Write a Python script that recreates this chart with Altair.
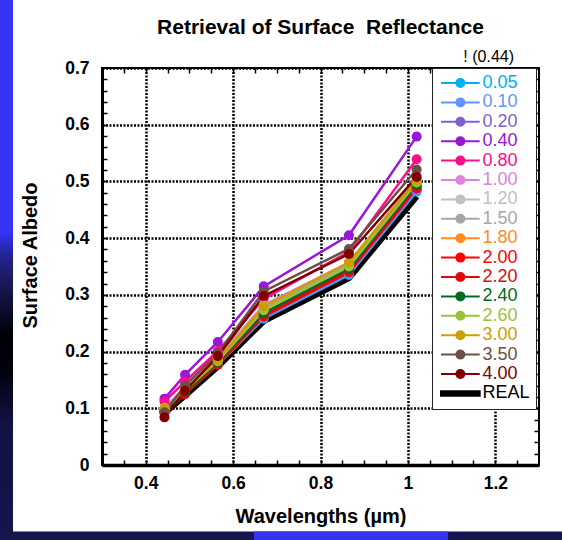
import altair as alt
import pandas as pd

FONT = "Liberation Sans"

# Band centre wavelengths (micrometres)
wavelengths = [0.443, 0.490, 0.565, 0.670, 0.865, 1.020]

# Optical depth at 0.44 um used in each retrieval
tau_labels = ["0.05", "0.10", "0.20", "0.40", "0.80", "1.00", "1.20", "1.50",
              "1.80", "2.00", "2.20", "2.40", "2.60", "3.00", "3.50", "4.00"]
tau_colors = ["#00b0f0", "#6494ff", "#7f60d4", "#9a16d8", "#fb0e8a", "#de82de",
              "#c0c0c0", "#a6a6a6", "#ff8c1f", "#ff0000", "#dd0a0a", "#006a24",
              "#9cc23a", "#c9a000", "#6e4f47", "#800000"]

# Retrieved surface albedo per optical depth
alb_005 = [0.093, 0.126, 0.177, 0.258, 0.335, 0.482]
alb_010 = [0.094, 0.127, 0.178, 0.259, 0.337, 0.484]
alb_020 = [0.095, 0.128, 0.179, 0.261, 0.339, 0.486]
alb_040 = [0.117, 0.159, 0.217, 0.315, 0.405, 0.579]
alb_080 = [0.112, 0.147, 0.201, 0.293, 0.376, 0.539]
alb_100 = [0.101, 0.136, 0.190, 0.282, 0.357, 0.505]
alb_120 = [0.099, 0.134, 0.188, 0.279, 0.354, 0.502]
alb_150 = [0.098, 0.133, 0.187, 0.277, 0.352, 0.500]
alb_180 = [0.097, 0.131, 0.185, 0.274, 0.349, 0.497]
alb_200 = [0.093, 0.125, 0.177, 0.262, 0.340, 0.488]
alb_220 = [0.094, 0.126, 0.178, 0.264, 0.343, 0.491]
alb_240 = [0.096, 0.129, 0.181, 0.268, 0.346, 0.494]
alb_260 = [0.098, 0.132, 0.183, 0.273, 0.350, 0.498]
alb_300 = [0.099, 0.134, 0.185, 0.280, 0.357, 0.502]
alb_350 = [0.093, 0.140, 0.197, 0.306, 0.381, 0.521]
alb_400 = [0.084, 0.131, 0.192, 0.298, 0.372, 0.508]

# True surface albedo
real_albedo = [0.092, 0.123, 0.174, 0.254, 0.330, 0.474]

retrieved = [alb_005, alb_010, alb_020, alb_040, alb_080, alb_100, alb_120, alb_150,
             alb_180, alb_200, alb_220, alb_240, alb_260, alb_300, alb_350, alb_400]

x_major = [0.4, 0.6, 0.8, 1.0, 1.2]
y_major = [0, 0.1, 0.2, 0.3, 0.4, 0.5, 0.6, 0.7]
x_minor = [round(0.3 + 0.05 * i, 2) for i in range(1, 20)]
y_minor = [round(0.02 * i, 2) for i in range(1, 35)]

rows = []
for name, vals in zip(tau_labels, retrieved):
    for w, v in zip(wavelengths, vals):
        rows.append({"tau": name, "wavelength": w, "albedo": v})
retr_df = pd.DataFrame(rows)
real_df = pd.DataFrame({"wavelength": wavelengths, "albedo": real_albedo})

x_scale = alt.Scale(domain=[0.3, 1.3], nice=False, zero=False)
y_scale = alt.Scale(domain=[0, 0.7], nice=False, zero=False)
color_scale = alt.Scale(domain=tau_labels + ["REAL"], range=tau_colors + ["#000000"])

grid_style = dict(grid=True, gridColor="#000000", gridWidth=2.5, gridDash=[2, 1.5])
label_style = dict(labelFont=FONT, labelFontSize=17.5, labelFontWeight="bold",
                   labelColor="black", labelFlush=False, labelOverlap=False)
title_style = dict(titleFont=FONT, titleFontSize=20, titleFontWeight="bold", titleColor="black")

x_main = alt.Axis(orient="bottom", values=x_major, format="~g", ticks=False, tickSize=0,
                  domain=True, domainWidth=3.5, domainColor="black", labelPadding=9,
                  title="Wavelengths (µm)", titlePadding=15,
                  **grid_style, **label_style, **title_style)
y_main = alt.Axis(orient="left", values=y_major, format="~g", ticks=False, tickSize=0,
                  domain=True, domainWidth=3, domainColor="black", labelPadding=13,
                  title="Surface Albedo", titlePadding=24, titleY=187,
                  **grid_style, **label_style, **title_style)

def inner_ticks(orient, values):
    return alt.Axis(orient=orient, offset=-5, values=values, ticks=True, tickSize=5,
                    tickWidth=1.5, tickColor="black", labels=False, domain=False,
                    grid=False, title=None)

# Legend glyphs: a short line with a dot, or a thick bar for the true albedo.
# Units are 5 px (symbol size 100); the glyph runs past the nominal box to the right.
dot_path = ("M-1.2,0H6.54M1.87,0A0.8,0.8,0,1,1,3.47,0"
            "A0.8,0.8,0,1,1,1.87,0Z")
bar_path = "M-1.2,-0.45H6.54V0.45H-1.2Z"

legend = alt.Legend(
    orient="none", legendX=330, legendY=0, title=None,
    fillColor="white", strokeColor="#222222", padding=6, rowPadding=1.4,
    labelFont=FONT, labelFontSize=18, labelOffset=26.5,
    labelColor={"expr": "datum.value === 'REAL' ? 'black' : scale('color', datum.value)"},
    symbolType={"expr": f"datum.value === 'REAL' ? '{bar_path}' : '{dot_path}'"},
    symbolSize=100, symbolStrokeWidth=2, symbolOpacity=1,
    symbolFillColor={"expr": "scale('color', datum.value)"},
    symbolStrokeColor={"expr": "scale('color', datum.value)"},
)

real_line = alt.Chart(real_df).mark_line(color="black", strokeWidth=6.5).encode(
    x=alt.X("wavelength:Q", scale=x_scale, axis=x_main),
    y=alt.Y("albedo:Q", scale=y_scale, axis=y_main),
)

tau_lines = alt.Chart(retr_df).mark_line(strokeWidth=2.5).encode(
    x=alt.X("wavelength:Q", scale=x_scale, axis=inner_ticks("bottom", x_minor)),
    y=alt.Y("albedo:Q", scale=y_scale, axis=inner_ticks("left", y_minor)),
    color=alt.Color("tau:N", scale=color_scale, legend=legend),
)

tau_points = alt.Chart(retr_df).mark_point(filled=True, size=100, opacity=1).encode(
    x=alt.X("wavelength:Q", scale=x_scale, axis=inner_ticks("top", x_minor)),
    y=alt.Y("albedo:Q", scale=y_scale, axis=inner_ticks("right", y_minor)),
    color=alt.Color("tau:N", scale=color_scale, legend=legend),
)

legend_head = alt.Chart(pd.DataFrame({"t": ["! (0.44)"]})).mark_text(
    font=FONT, fontSize=16, align="right", baseline="middle", color="black"
).encode(x=alt.value(412), y=alt.value(-11), text="t:N")

# Slide backdrop around the white panel
one = pd.DataFrame({"k": [0]})
left_band = alt.Chart(one).mark_rect(
    color=alt.LinearGradient(
        gradient="linear", x1=0, x2=0, y1=0, y2=1,
        stops=[alt.GradientStop(offset=0, color="#3434f6"),
               alt.GradientStop(offset=0.43, color="#3434f6"),
               alt.GradientStop(offset=0.47, color="#24249a"),
               alt.GradientStop(offset=0.52, color="#1a1a5c"),
               alt.GradientStop(offset=0.62, color="#000008"),
               alt.GradientStop(offset=0.69, color="#02020f"),
               alt.GradientStop(offset=0.78, color="#111144"),
               alt.GradientStop(offset=1, color="#15154f")])
).encode(x=alt.value(-102), x2=alt.value(-89), y=alt.value(-68), y2=alt.value(472))
bottom_band = alt.Chart(one).mark_rect(color="#15154f").encode(
    x=alt.value(-102), x2=alt.value(460), y=alt.value(463.5), y2=alt.value(472))
bottom_glow = alt.Chart(one).mark_rect(color="#3434f0").encode(
    x=alt.value(152), x2=alt.value(346), y=alt.value(463.5), y2=alt.value(472))

chart = alt.layer(
    left_band, bottom_band, bottom_glow, real_line, tau_lines, tau_points, legend_head
).resolve_axis(x="independent", y="independent").properties(
    width=437, height=397,
    title=alt.TitleParams(text="Retrieval of Surface \u00a0Reflectance", font=FONT,
                          fontSize=21, fontWeight="bold", color="black",
                          anchor="middle", offset=0, dy=38),
    autosize=alt.AutoSizeParams(type="none"),
    padding={"left": 102, "top": 68, "right": 23, "bottom": 75},
    background="white",
).configure_view(stroke="black", strokeWidth=2)

chart.save("out.html", embed_options={"renderer": "svg", "actions": False})
